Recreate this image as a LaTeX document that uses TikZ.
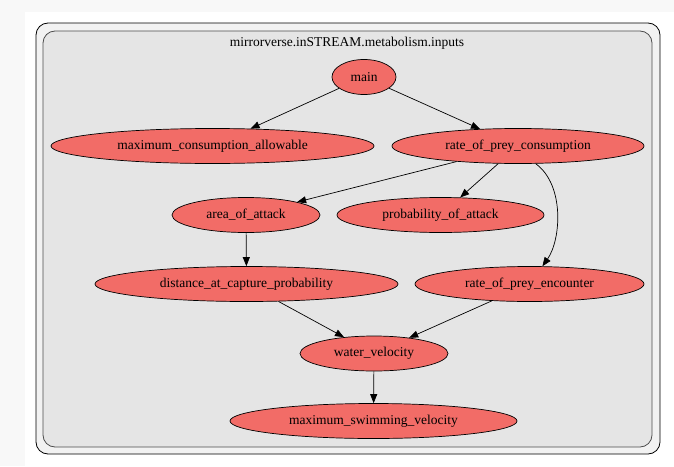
\documentclass[tikz,border=0pt]{standalone}
\usepackage{fontspec}
\setmainfont{Liberation Serif}
\usetikzlibrary{shapes.geometric,arrows.meta}
\definecolor{nodered}{HTML}{F26C67}
\definecolor{innerfill}{HTML}{E5E5E5}
\definecolor{outerfill}{HTML}{F2F2F2}
\definecolor{pagebg}{HTML}{F8F8F8}
\begin{document}
\begin{tikzpicture}[x=1pt,y=-1pt,
  nd/.style={ellipse,draw=black,line width=0.7pt,fill=nodered,inner sep=0pt,
    minimum height=35pt,font=\fontsize{13.5}{15}\selectfont},
  arr/.style={-{Triangle[length=9pt,width=7pt]},line width=0.7pt,draw=black}]
\useasboundingbox (0,0) rectangle (674,466);
\fill[pagebg] (0,0) rectangle (674,466);
\fill[white] (25,12) rectangle (674,466);
\draw[fill=outerfill,line width=0.8pt,rounded corners=12pt] (36,23) rectangle (660,454);
\draw[fill=innerfill,draw=black!70,line width=0.8pt,rounded corners=12pt] (43,31) rectangle (652,447);
\node[font=\fontsize{13.5}{15}\selectfont] (title) at (347,43) {mirrorverse.inSTREAM.metabolism.inputs};

\node[nd,minimum width=64pt] (main) at (364,77) {main};
\node[nd,minimum width=323pt] (mca) at (212.5,146) {maximum\_consumption\_allowable};
\node[nd,minimum width=252pt] (rpc) at (518,146) {rate\_of\_prey\_consumption};
\node[nd,minimum width=148pt] (area) at (246,215) {area\_of\_attack};
\node[nd,minimum width=207pt] (prob) at (440.5,215) {probability\_of\_attack};
\node[nd,minimum width=303pt] (dist) at (246.5,284) {distance\_at\_capture\_probability};
\node[nd,minimum width=229pt] (rpe) at (529.5,284) {rate\_of\_prey\_encounter};
\node[nd,minimum width=148pt] (water) at (374,353.5) {water\_velocity};
\node[nd,minimum width=287pt] (msv) at (373.5,421) {maximum\_swimming\_velocity};

\draw[arr] (main) -- (mca);
\draw[arr] (main) -- (rpc);
\draw[arr] (rpc) -- (area);
\draw[arr] (rpc) -- (prob);
\draw[arr] (rpc.-45) .. controls (565,185) and (561,240) .. (rpe.54);
\draw[arr] (area) -- (dist);
\draw[arr] (dist) -- (water);
\draw[arr] (rpe) -- (water);
\draw[arr] (water) -- (msv);
\end{tikzpicture}
\end{document}
